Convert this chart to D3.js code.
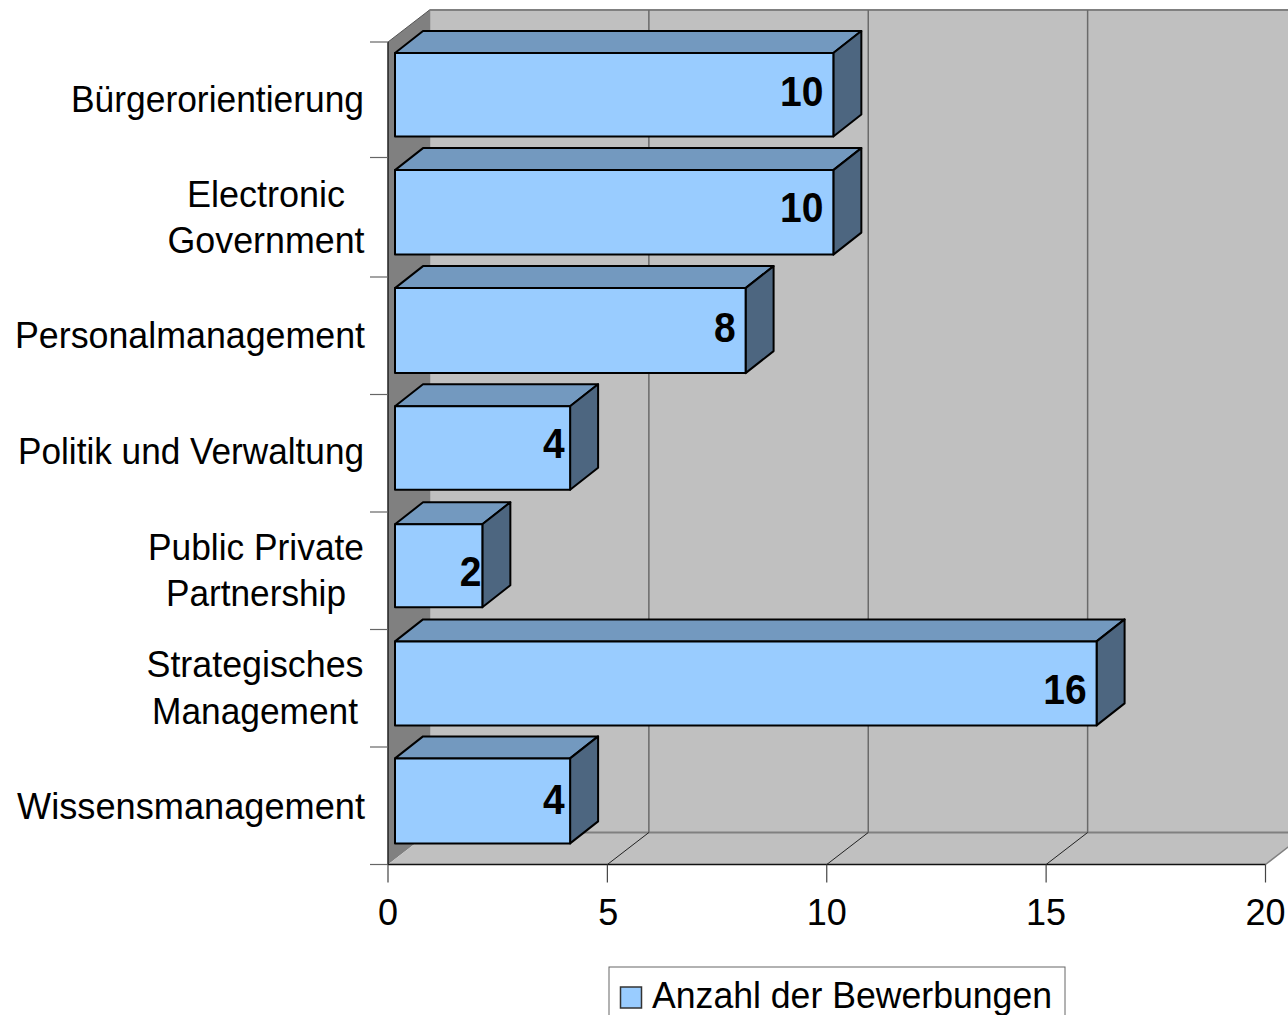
<!DOCTYPE html>
<html><head><meta charset="utf-8">
<script src="https://cdn.jsdelivr.net/npm/d3@7"></script>
<style>html,body{margin:0;padding:0;background:#fff;overflow:hidden}svg{display:block}text{font-family:"Liberation Sans",Arial,sans-serif;fill:#000}</style>
</head><body><svg id="c" width="1288" height="1015"></svg>
<script>
const categories=["Bürgerorientierung","Electronic|Government","Personalmanagement","Politik und Verwaltung","Public Private|Partnership","Strategisches|Management","Wissensmanagement"];
const values=[10,10,8,4,2,16,4];
const tickValues=[0,5,10,15,20];
const seriesName="Anzahl der Bewerbungen";

const svg=d3.select("#c");
const x=d3.scaleLinear().domain([0,20]).range([388,1265.5]);
const y=d3.scaleBand().domain(categories).range([42,864.5]);
const wallDx=41.5,wallDy=-32,barDx=28,barDy=-22,barShift=6.6;
const yt=42,xb=864.5,wallGrey="#c0c0c0",sideGrey="#808080",gridGrey="#6a6a6a";
const poly=p=>p.map(q=>q.join(",")).join(" ");
const F=36;

// walls and floor
svg.append("polygon").attr("points",poly([[x(0)+wallDx,yt+wallDy],[x(20)+wallDx,yt+wallDy],[x(20)+wallDx,xb+wallDy],[x(0)+wallDx,xb+wallDy]])).attr("fill",wallGrey);
svg.append("polygon").attr("points",poly([[x(0),yt],[x(0)+wallDx,yt+wallDy],[x(0)+wallDx,xb+wallDy],[x(0),xb]])).attr("fill",sideGrey);
svg.append("polygon").attr("points",poly([[x(0),xb],[x(20),xb],[x(20)+wallDx,xb+wallDy],[x(0)+wallDx,xb+wallDy]])).attr("fill",wallGrey);
svg.append("line").attr("x1",x(0)+wallDx).attr("x2",x(20)+wallDx).attr("y1",yt+wallDy).attr("y2",yt+wallDy).attr("stroke",sideGrey).attr("stroke-width",2);
svg.append("line").attr("x1",x(0)+wallDx).attr("x2",x(20)+wallDx).attr("y1",xb+wallDy).attr("y2",xb+wallDy).attr("stroke",sideGrey).attr("stroke-width",2);
svg.append("line").attr("x1",x(0)+wallDx).attr("x2",x(0)+wallDx).attr("y1",yt+wallDy).attr("y2",xb+wallDy).attr("stroke",sideGrey).attr("stroke-width",1.5);
svg.append("line").attr("x1",x(0)).attr("x2",x(0)+wallDx).attr("y1",yt).attr("y2",yt+wallDy).attr("stroke","#555").attr("stroke-width",1);
svg.append("line").attr("x1",x(20)).attr("x2",x(20)+wallDx).attr("y1",xb).attr("y2",xb+wallDy).attr("stroke",sideGrey).attr("stroke-width",1.5);

// grid
tickValues.slice(1,-1).forEach(t=>{
  svg.append("line").attr("x1",x(t)+wallDx).attr("x2",x(t)+wallDx).attr("y1",yt+wallDy).attr("y2",xb+wallDy).attr("stroke",gridGrey).attr("stroke-width",1.5);
  svg.append("line").attr("x1",x(t)).attr("x2",x(t)+wallDx).attr("y1",xb).attr("y2",xb+wallDy).attr("stroke","#222").attr("stroke-width",1);
});

// axes
svg.append("line").attr("x1",x(0)).attr("x2",x(0)).attr("y1",yt).attr("y2",xb).attr("stroke","#222").attr("stroke-width",1.5);
svg.append("line").attr("x1",x(0)).attr("x2",x(20)).attr("y1",xb).attr("y2",xb).attr("stroke","#111").attr("stroke-width",1.5);
const ticksY=[...categories.map(c=>y(c)),xb];
ticksY.forEach((t,i)=>svg.append("line").attr("x1",370).attr("x2",x(0)).attr("y1",i===1?t-2:t).attr("y2",i===1?t-2:t).attr("stroke","#666").attr("stroke-width",1.2));
tickValues.forEach(t=>{
  svg.append("line").attr("x1",x(t)).attr("x2",x(t)).attr("y1",xb).attr("y2",xb+18).attr("stroke","#444").attr("stroke-width",1.2);
  svg.append("text").attr("x",x(t)+(t===5?0.8:0)).attr("y",924.5).attr("text-anchor","middle").attr("font-size",F).text(t);
});

// bars
const barTopOff=[11,10.6,11.1,11.7,12.3,11.9,11.4], barH=[83.5,84.5,85,83.5,83,84,85];
const labelEnd=[10,10,10,5.5,1,10,5.5], labelBase=[52.5,51.5,53.5,51.5,61.5,62.5,55.5], labelDy=[0,0,1,-1,-1,0,1];
categories.forEach((c,i)=>{
  const L=395,R=x(values[i])+barShift,T=y(c)+barTopOff[i],B=T+barH[i],dy=barDy+labelDy[i]*-0;
  const g=svg.append("g").attr("stroke","#000").attr("stroke-width",2).attr("stroke-linejoin","round");
  g.append("polygon").attr("points",poly([[L,T],[L+barDx,T+dy],[R+barDx,T+dy],[R,T]])).attr("fill","#7399bf");
  g.append("polygon").attr("points",poly([[R,T],[R+barDx,T+dy],[R+barDx,B+dy],[R,B]])).attr("fill","#4d6680");
  g.append("rect").attr("x",L).attr("y",T).attr("width",R-L).attr("height",B-T).attr("fill","#99ccff");
  svg.append("text").attr("transform",`translate(${R-labelEnd[i]},${T+labelBase[i]}) scale(1,1.1)`).attr("text-anchor","end").attr("font-size",39).attr("font-weight","bold").text(values[i]);
});

// category labels
const catX=[364,266,365,364,256,255,365];
const catBase=[[112],[207,253],[348],[464],[559.5,606],[677,724],[819]];
const catWidth=[[293],[158,197],[350],[346],[216,180],[217,206],[348]];
categories.forEach((c,i)=>{
  const lines=c.split("|");
  lines.forEach((ln,j)=>svg.append("text").attr("x",catX[i]).attr("y",catBase[i][j]).attr("text-anchor",lines.length>1?"middle":"end").attr("font-size",F).attr("textLength",catWidth[i][j]).attr("lengthAdjust","spacingAndGlyphs").text(ln));
});

// legend
svg.append("rect").attr("x",609).attr("y",967).attr("width",456).attr("height",60).attr("fill","#fff").attr("stroke","#666").attr("stroke-width",1);
svg.append("rect").attr("x",620.5).attr("y",987).attr("width",21).attr("height",21).attr("fill","#99ccff").attr("stroke","#333").attr("stroke-width",1.5);
svg.append("text").attr("x",652).attr("y",1008).attr("font-size",F).attr("textLength",400).attr("lengthAdjust","spacingAndGlyphs").text(seriesName);
</script></body></html>
